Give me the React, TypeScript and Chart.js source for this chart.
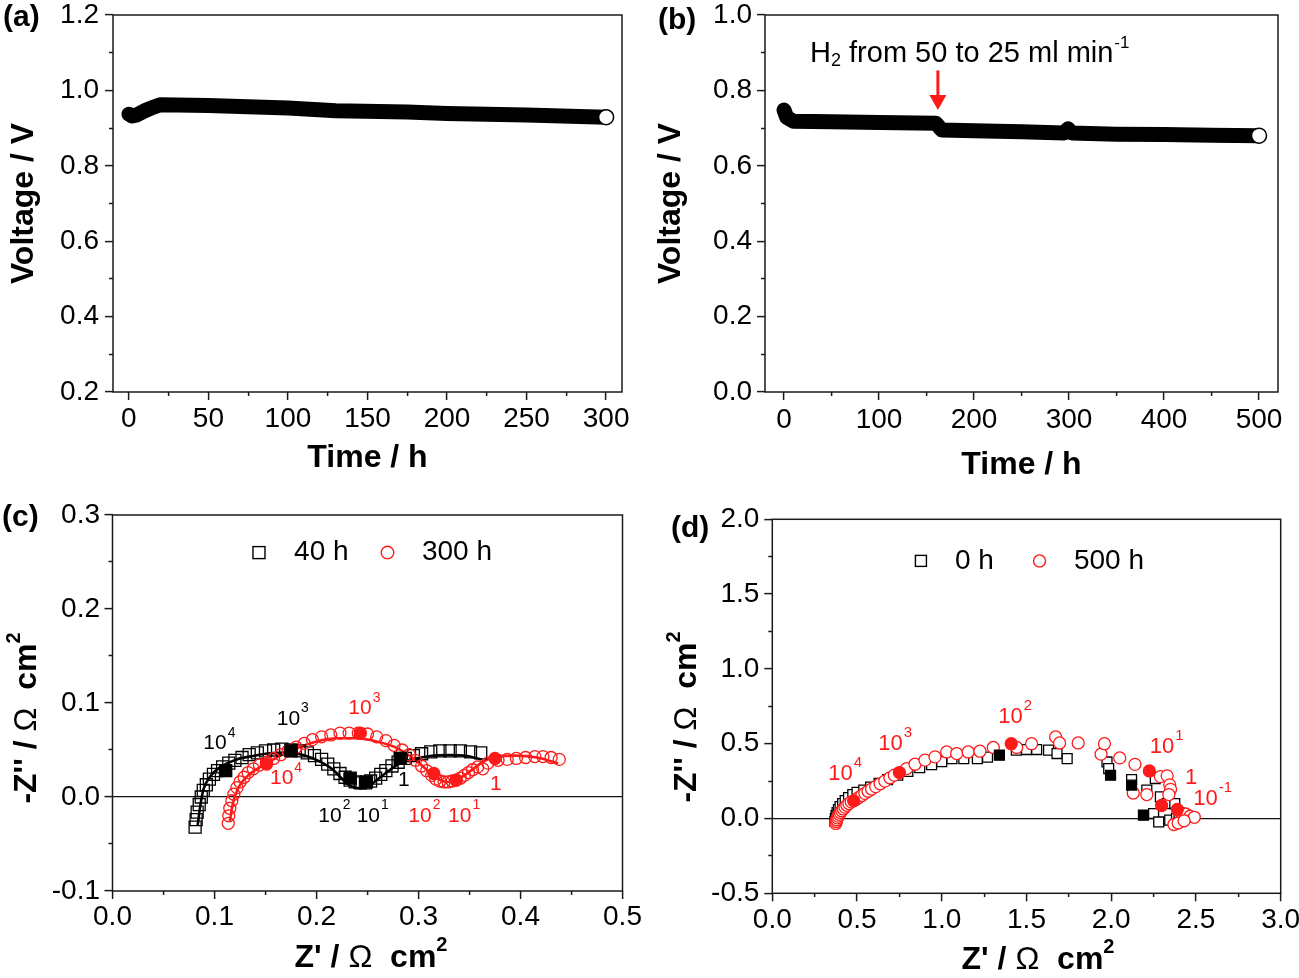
import React, { useEffect, useRef } from "react";
import { Chart, registerables } from "chart.js";

Chart.register(...registerables);

const FONT = "'Liberation Sans', Arial, Helvetica, sans-serif";
const RED = "#ff1a1a";

// ---------------- (a) stability at 300 h ----------------
const timeA = [0, 2, 5, 10, 15, 20, 50, 100, 130, 175, 200, 250, 300];
const voltA = [0.937, 0.932, 0.935, 0.946, 0.955, 0.962, 0.96, 0.953, 0.946, 0.943, 0.939, 0.935, 0.929];
const endTimeA = [300];
const endVoltA = [0.929];
const xMajorA = [0, 50, 100, 150, 200, 250, 300];
const xMinorA = [25, 75, 125, 175, 225, 275];
const yMajorA = [0.2, 0.4, 0.6, 0.8, 1.0, 1.2];
const yMinorA = [0.3, 0.5, 0.7, 0.9, 1.1];

// ---------------- (b) stability at 500 h ----------------
const timeB = [0, 3, 10, 50, 100, 160, 166, 200, 250, 295, 299, 303, 350, 400, 450, 500];
const voltB = [0.748, 0.728, 0.718, 0.717, 0.715, 0.713, 0.695, 0.693, 0.69, 0.687, 0.698, 0.687, 0.684, 0.683, 0.681, 0.68];
const endTimeB = [500];
const endVoltB = [0.68];
const xMajorB = [0, 100, 200, 300, 400, 500];
const xMinorB = [50, 150, 250, 350, 450];
const yMajorB = [0.0, 0.2, 0.4, 0.6, 0.8, 1.0];
const yMinorB = [0.1, 0.3, 0.5, 0.7, 0.9];
const noteB = { time: 27.4, volt: 0.876 };
const arrowB = { time: 162, from: 0.853, to: 0.748 };

// ---------------- (c) impedance 40 h / 300 h ----------------
const open40h = [
  [0.081, -0.032], [0.082, -0.024], [0.083, -0.016], [0.085, -0.008], [0.087, 0.0], [0.089, 0.007],
  [0.092, 0.013], [0.095, 0.019], [0.099, 0.024], [0.103, 0.028], [0.108, 0.032], [0.114, 0.036],
  [0.12, 0.039], [0.127, 0.042], [0.134, 0.045], [0.142, 0.047], [0.15, 0.049], [0.158, 0.05],
  [0.166, 0.051], [0.175, 0.05], [0.183, 0.049], [0.191, 0.047], [0.198, 0.044], [0.205, 0.04],
  [0.211, 0.035], [0.217, 0.03], [0.223, 0.025], [0.228, 0.021], [0.233, 0.018], [0.238, 0.016],
  [0.243, 0.015], [0.248, 0.015], [0.253, 0.017], [0.258, 0.02], [0.263, 0.024], [0.268, 0.028],
  [0.274, 0.033], [0.28, 0.037], [0.287, 0.041], [0.295, 0.044], [0.303, 0.046], [0.312, 0.048],
  [0.321, 0.049], [0.331, 0.049], [0.341, 0.049], [0.351, 0.048], [0.361, 0.047],
];
const filled40h = [[0.111, 0.028], [0.175, 0.049], [0.233, 0.02], [0.249, 0.016], [0.282, 0.041]];
const fit40h = [
  [0.0835, -0.03], [0.086, -0.01], [0.089, 0.0075], [0.0956, 0.0216], [0.1054, 0.0316], [0.1218, 0.04],
  [0.138, 0.0437], [0.1544, 0.0465], [0.1708, 0.0472], [0.187, 0.0447], [0.2034, 0.0376], [0.2165, 0.0288],
  [0.2263, 0.018], [0.2345, 0.011], [0.2426, 0.0093], [0.2525, 0.0128], [0.2655, 0.0234], [0.2786, 0.034],
  [0.2917, 0.0394], [0.3113, 0.0437], [0.3309, 0.0447], [0.3472, 0.0437], [0.362, 0.04],
];
const open300h = [
  [0.1135, -0.028], [0.114, -0.02], [0.115, -0.012], [0.117, -0.004], [0.119, 0.003], [0.122, 0.01],
  [0.125, 0.016], [0.129, 0.021], [0.133, 0.026], [0.138, 0.03], [0.144, 0.034], [0.151, 0.037],
  [0.158, 0.041], [0.165, 0.045], [0.172, 0.049], [0.18, 0.053], [0.188, 0.057], [0.196, 0.061],
  [0.205, 0.064], [0.214, 0.066], [0.223, 0.068], [0.232, 0.068], [0.241, 0.068], [0.25, 0.067],
  [0.259, 0.064], [0.268, 0.06], [0.276, 0.055], [0.284, 0.05], [0.291, 0.045], [0.297, 0.039],
  [0.303, 0.033], [0.308, 0.028], [0.313, 0.023], [0.317, 0.019], [0.321, 0.017], [0.325, 0.016],
  [0.329, 0.016], [0.333, 0.017], [0.337, 0.018], [0.341, 0.02], [0.345, 0.023], [0.349, 0.026],
  [0.353, 0.029], [0.358, 0.032], [0.363, 0.03], [0.368, 0.036], [0.378, 0.039], [0.387, 0.04],
  [0.396, 0.041], [0.405, 0.042], [0.414, 0.043], [0.422, 0.043], [0.43, 0.042], [0.438, 0.04],
];
const filled300h = [[0.151, 0.035], [0.243, 0.068], [0.315, 0.025], [0.337, 0.018], [0.375, 0.041]];
const fit300h = [
  [0.115, -0.026], [0.118, -0.007], [0.123, 0.009], [0.132, 0.022], [0.145, 0.032], [0.161, 0.042],
  [0.181, 0.052], [0.2, 0.059], [0.22, 0.0625], [0.239, 0.0625], [0.259, 0.059], [0.279, 0.052],
  [0.295, 0.041], [0.308, 0.029], [0.318, 0.02], [0.328, 0.016], [0.337, 0.018], [0.35, 0.027],
  [0.364, 0.038], [0.377, 0.043], [0.396, 0.044], [0.416, 0.042], [0.437, 0.036],
];
const xMajorC = [0.0, 0.1, 0.2, 0.3, 0.4, 0.5];
const xMinorC = [0.05, 0.15, 0.25, 0.35, 0.45];
const yMajorC = [-0.1, 0.0, 0.1, 0.2, 0.3];
const yMinorC = [-0.05, 0.05, 0.15, 0.25];

// ---------------- (d) impedance 0 h / 500 h ----------------
const open0h = [
  [0.37, -0.02], [0.372, 0.0], [0.376, 0.02], [0.382, 0.04], [0.39, 0.06], [0.4, 0.08], [0.415, 0.1],
  [0.43, 0.12], [0.45, 0.14], [0.475, 0.16], [0.5, 0.175], [0.54, 0.19], [0.58, 0.21], [0.63, 0.235],
  [0.68, 0.26], [0.74, 0.29], [0.8, 0.315], [0.87, 0.34], [0.94, 0.36], [1.0, 0.38], [1.06, 0.4],
  [1.13, 0.4], [1.21, 0.4], [1.27, 0.41], [1.44, 0.457], [1.5, 0.461], [1.56, 0.461], [1.63, 0.457],
  [1.68, 0.434], [1.74, 0.4], [1.975, 0.378], [1.985, 0.334], [2.12, 0.26], [2.21, 0.19], [2.26, 0.267],
  [2.29, 0.145], [2.33, 0.1], [2.375, 0.1], [2.25, 0.033], [2.28, -0.023], [2.345, -0.011], [2.385, 0.0],
  [2.4, 0.04],
];
const filled0h = [[1.34, 0.423], [1.996, 0.289], [2.12, 0.223], [2.19, 0.022]];
const open500h = [
  [0.375, -0.033], [0.377, -0.02], [0.38, -0.008], [0.384, 0.004], [0.389, 0.016], [0.395, 0.028],
  [0.402, 0.04], [0.41, 0.052], [0.419, 0.064], [0.429, 0.076], [0.44, 0.088], [0.452, 0.1],
  [0.466, 0.111], [0.497, 0.13], [0.512, 0.141], [0.528, 0.154], [0.546, 0.168], [0.565, 0.182],
  [0.586, 0.197], [0.61, 0.213], [0.636, 0.232], [0.664, 0.25], [0.694, 0.272], [0.72, 0.29],
  [0.793, 0.334], [0.842, 0.363], [0.901, 0.39], [0.96, 0.412], [1.029, 0.445], [1.088, 0.434],
  [1.156, 0.445], [1.225, 0.45], [1.304, 0.475], [1.442, 0.475], [1.53, 0.5], [1.672, 0.545],
  [1.695, 0.505], [1.805, 0.505], [1.94, 0.43], [1.96, 0.5], [2.05, 0.405], [2.14, 0.362],
  [2.29, 0.28], [2.33, 0.285], [2.345, 0.225], [2.35, 0.195], [2.34, 0.16], [2.13, 0.17],
  [2.21, 0.16], [2.42, 0.025], [2.44, 0.03], [2.465, 0.015], [2.49, 0.008], [2.37, -0.04],
  [2.395, -0.03], [2.43, -0.015],
];
const filled500h = [[0.48, 0.118], [0.75, 0.307], [1.41, 0.5], [2.225, 0.318], [2.297, 0.087], [2.39, 0.06]];
const xMajorD = [0.0, 0.5, 1.0, 1.5, 2.0, 2.5, 3.0];
const xMinorD = [0.25, 0.75, 1.25, 1.75, 2.25, 2.75];
const yMajorD = [-0.5, 0.0, 0.5, 1.0, 1.5, 2.0];
const yMinorD = [-0.25, 0.25, 0.75, 1.25, 1.75];

// frequency labels (anchor = left / vertical middle of the "10")
const freqC = [
  { x: 0.089, y: 0.057, base: "10", sup: "4", color: "#000" },
  { x: 0.161, y: 0.083, base: "10", sup: "3", color: "#000" },
  { x: 0.2018, y: -0.02, base: "10", sup: "2", color: "#000" },
  { x: 0.2394, y: -0.02, base: "10", sup: "1", color: "#000" },
  { x: 0.28, y: 0.0174, base: "1", sup: "", color: "#000" },
  { x: 0.2312, y: 0.0944, base: "10", sup: "3", color: RED },
  { x: 0.1544, y: 0.02, base: "10", sup: "4", color: RED },
  { x: 0.29, y: -0.02, base: "10", sup: "2", color: RED },
  { x: 0.329, y: -0.02, base: "10", sup: "1", color: RED },
  { x: 0.37, y: 0.0138, base: "1", sup: "", color: RED },
];
const freqD = [
  { x: 0.33, y: 0.3, base: "10", sup: "4", color: RED },
  { x: 0.625, y: 0.497, base: "10", sup: "3", color: RED },
  { x: 1.333, y: 0.679, base: "10", sup: "2", color: RED },
  { x: 2.228, y: 0.479, base: "10", sup: "1", color: RED },
  { x: 2.435, y: 0.274, base: "1", sup: "", color: RED },
  { x: 2.484, y: 0.134, base: "10", sup: "-1", color: RED },
];
const legendC = [
  { kind: "rect", x: 0.1436, y: 0.26, text: "", color: "#000" },
  { kind: "text", x: 0.178, y: 0.26, text: "40 h", color: "#000" },
  { kind: "circle", x: 0.2696, y: 0.26, text: "", color: RED },
  { kind: "text", x: 0.3034, y: 0.26, text: "300 h", color: "#000" },
];
const legendD = [
  { kind: "rect", x: 0.877, y: 1.722, text: "", color: "#000" },
  { kind: "text", x: 1.078, y: 1.722, text: "0 h", color: "#000" },
  { kind: "circle", x: 1.577, y: 1.722, text: "", color: RED },
  { kind: "text", x: 1.78, y: 1.722, text: "500 h", color: "#000" },
];

// axis titles with mixed weights and a raised "2" (canvas-pixel centres)
const titleSegsX = [
  { t: "Z' / ", w: "bold" },
  { t: "Ω", w: "normal" },
  { t: "  cm", w: "bold" },
  { t: "2", w: "bold", sup: true },
];
const titleSegsY = [
  { t: "-Z'' / ", w: "bold" },
  { t: "Ω", w: "normal" },
  { t: "  cm", w: "bold" },
  { t: "2", w: "bold", sup: true },
];
const titlesC = [
  { segs: titleSegsX, cx: 371, cy: 468, rot: 0 },
  { segs: titleSegsY, cx: 27, cy: 228, rot: -Math.PI / 2 },
];
const titlesD = [
  { segs: titleSegsX, cx: 388, cy: 470, rot: 0 },
  { segs: titleSegsY, cx: 37.5, cy: 227, rot: -Math.PI / 2 },
];

// ---------------- helpers ----------------
const zip = (xs: number[], ys: number[]) => xs.map((x, i) => ({ x, y: ys[i] }));
const pts = (arr: number[][]) => arr.map(([x, y]) => ({ x, y }));

const framePlugin = {
  id: "frame",
  afterDraw(chart: any) {
    const { ctx, chartArea: a } = chart;
    ctx.save();
    ctx.strokeStyle = "#1a1a1a";
    ctx.lineWidth = 1.5;
    ctx.strokeRect(a.left, a.top, a.right - a.left, a.bottom - a.top);
    ctx.restore();
  },
};

function richTitlePlugin(items: any[]) {
  return {
    id: "richTitles",
    afterDraw(chart: any) {
      const { ctx } = chart;
      ctx.save();
      ctx.fillStyle = "#000";
      ctx.textBaseline = "middle";
      ctx.textAlign = "left";
      for (const it of items) {
        const fontOf = (s: any) => `${s.w} ${s.sup ? 20 : 32}px ${FONT}`;
        let total = 0;
        for (const s of it.segs) {
          ctx.font = fontOf(s);
          total += ctx.measureText(s.t).width;
        }
        ctx.save();
        ctx.translate(it.cx, it.cy);
        ctx.rotate(it.rot);
        let x = -total / 2;
        for (const s of it.segs) {
          ctx.font = fontOf(s);
          ctx.fillText(s.t, x, s.sup ? -13 : 0);
          x += ctx.measureText(s.t).width;
        }
        ctx.restore();
      }
      ctx.restore();
    },
  };
}

function freqPlugin(items: any[], size: number) {
  return {
    id: "freq",
    afterDatasetsDraw(chart: any) {
      const { ctx, scales } = chart;
      ctx.save();
      ctx.textBaseline = "middle";
      ctx.textAlign = "left";
      for (const it of items) {
        const px = scales.x.getPixelForValue(it.x);
        const py = scales.y.getPixelForValue(it.y);
        ctx.fillStyle = it.color;
        ctx.font = `${size}px ${FONT}`;
        ctx.fillText(it.base, px, py);
        if (it.sup) {
          const w = ctx.measureText(it.base).width;
          ctx.font = `${Math.round(size * 0.68)}px ${FONT}`;
          ctx.fillText(it.sup, px + w + 1, py - size * 0.5);
        }
      }
      ctx.restore();
    },
  };
}

function legendPlugin(items: any[], side: number, radius: number) {
  return {
    id: "legendBox",
    afterDatasetsDraw(chart: any) {
      const { ctx, scales } = chart;
      ctx.save();
      ctx.lineWidth = 1.4;
      for (const it of items) {
        const px = scales.x.getPixelForValue(it.x);
        const py = scales.y.getPixelForValue(it.y);
        if (it.kind === "rect") {
          ctx.strokeStyle = it.color;
          ctx.strokeRect(px - side / 2, py - side / 2, side, side);
        } else if (it.kind === "circle") {
          ctx.strokeStyle = it.color;
          ctx.beginPath();
          ctx.arc(px, py, radius, 0, Math.PI * 2);
          ctx.stroke();
        } else {
          ctx.fillStyle = it.color;
          ctx.font = `28px ${FONT}`;
          ctx.textAlign = "left";
          ctx.textBaseline = "middle";
          ctx.fillText(it.text, px, py);
        }
      }
      ctx.restore();
    },
  };
}

const notePlugin = {
  id: "noteB",
  afterDatasetsDraw(chart: any) {
    const { ctx, scales } = chart;
    const x0 = scales.x.getPixelForValue(noteB.time);
    const y0 = scales.y.getPixelForValue(noteB.volt);
    ctx.save();
    ctx.fillStyle = "#000";
    ctx.textAlign = "left";
    ctx.textBaseline = "alphabetic";
    let x = x0;
    ctx.font = `29px ${FONT}`;
    ctx.fillText("H", x, y0);
    x += ctx.measureText("H").width;
    ctx.font = `18px ${FONT}`;
    ctx.fillText("2", x, y0 + 4);
    x += ctx.measureText("2").width;
    ctx.font = `29px ${FONT}`;
    const main = " from 50 to 25 ml min";
    ctx.fillText(main, x, y0);
    x += ctx.measureText(main).width;
    ctx.font = `17px ${FONT}`;
    ctx.fillText("-1", x + 1, y0 - 14);
    // arrow
    const ax = scales.x.getPixelForValue(arrowB.time);
    const ay1 = scales.y.getPixelForValue(arrowB.from);
    const ay2 = scales.y.getPixelForValue(arrowB.to);
    ctx.strokeStyle = RED;
    ctx.fillStyle = RED;
    ctx.lineWidth = 3;
    ctx.beginPath();
    ctx.moveTo(ax, ay1);
    ctx.lineTo(ax, ay2 - 12);
    ctx.stroke();
    ctx.beginPath();
    ctx.moveTo(ax - 8.5, ay2 - 15);
    ctx.lineTo(ax + 8.5, ay2 - 15);
    ctx.lineTo(ax, ay2);
    ctx.closePath();
    ctx.fill();
    ctx.restore();
  },
};

function makeScale(o: {
  axis: "x" | "y";
  min: number;
  max: number;
  major: number[];
  minor: number[];
  digits: number;
  title: string;
  showTitle: boolean;
  titlePad: number;
  tickPad: number;
  size: number;
  zero?: boolean;
}) {
  const isMajor = (v: number) => o.major.some((m) => Math.abs(m - v) < 1e-9);
  const all = [...o.major, ...o.minor].sort((a, b) => a - b);
  const isX = o.axis === "x";
  return {
    type: "linear",
    position: isX ? "bottom" : "left",
    min: o.min,
    max: o.max,
    afterBuildTicks: (s: any) => {
      s.ticks = all.map((v) => ({ value: v }));
    },
    afterFit: (s: any) => {
      if (isX) s.height = o.size;
      else s.width = o.size;
    },
    border: { display: false },
    grid: {
      drawOnChartArea: !!o.zero,
      drawTicks: true,
      tickLength: 8,
      lineWidth: 1.2,
      color: (c: any) => (o.zero && c.tick && Math.abs(c.tick.value) < 1e-9 ? "#111" : "rgba(0,0,0,0)"),
      tickColor: "#1a1a1a",
      tickWidth: 1.5,
      tickBorderDash: (c: any) =>
        c.tick && isMajor(c.tick.value) ? [] : isX ? [4, 100] : [0, 4, 4, 100],
    },
    ticks: {
      autoSkip: false,
      maxRotation: 0,
      minRotation: 0,
      padding: o.tickPad,
      color: "#000",
      font: { family: FONT, size: 28 },
      callback: (v: any) => (isMajor(Number(v)) ? Number(v).toFixed(o.digits) : ""),
    },
    title: {
      display: o.showTitle,
      text: o.title,
      color: "#000",
      font: { family: FONT, size: 32, weight: "bold" },
      padding: isX ? { top: 0, bottom: o.titlePad } : { top: o.titlePad, bottom: 0 },
    },
  };
}

const baseOptions = (padding: any) => ({
  animation: false,
  responsive: false,
  events: [],
  layout: { padding },
  plugins: { legend: { display: false }, tooltip: { enabled: false } },
});

function configA() {
  return {
    type: "scatter",
    data: {
      datasets: [
        {
          data: zip(endTimeA, endVoltA),
          showLine: false,
          pointRadius: 7.5,
          pointBackgroundColor: "#fff",
          pointBorderColor: "#000",
          pointBorderWidth: 1.5,
          order: 0,
        },
        {
          data: zip(timeA, voltA),
          showLine: true,
          borderColor: "#000",
          borderWidth: 15,
          borderCapStyle: "round",
          borderJoinStyle: "round",
          pointRadius: 0,
          tension: 0,
          order: 1,
        },
      ],
    },
    options: {
      ...baseOptions({ top: 35, right: 28, left: 0, bottom: 0 }),
      scales: {
        x: makeScale({ axis: "x", min: -10, max: 310, major: xMajorA, minor: xMinorA, digits: 0, title: "Time / h", showTitle: true, titlePad: 12.8, tickPad: 2.2, size: 98 }),
        y: makeScale({ axis: "y", min: 0.2, max: 1.2, major: yMajorA, minor: yMinorA, digits: 1, title: "Voltage / V", showTitle: true, titlePad: 4.7, tickPad: 6, size: 113 }),
      },
    },
    plugins: [framePlugin],
  };
}

function configB() {
  return {
    type: "scatter",
    data: {
      datasets: [
        {
          data: zip(endTimeB, endVoltB),
          showLine: false,
          pointRadius: 7.5,
          pointBackgroundColor: "#fff",
          pointBorderColor: "#000",
          pointBorderWidth: 1.5,
          order: 0,
        },
        {
          data: zip(timeB, voltB),
          showLine: true,
          borderColor: "#000",
          borderWidth: 15,
          borderCapStyle: "round",
          borderJoinStyle: "round",
          pointRadius: 0,
          tension: 0,
          order: 1,
        },
      ],
    },
    options: {
      ...baseOptions({ top: 35, right: 21, left: 0, bottom: 0 }),
      scales: {
        x: makeScale({ axis: "x", min: -20, max: 520, major: xMajorB, minor: xMinorB, digits: 0, title: "Time / h", showTitle: true, titlePad: 5.8, tickPad: 3, size: 98 }),
        y: makeScale({ axis: "y", min: 0, max: 1.0, major: yMajorB, minor: yMinorB, digits: 1, title: "Voltage / V", showTitle: true, titlePad: 2.3, tickPad: 5, size: 115 }),
      },
    },
    plugins: [framePlugin, notePlugin],
  };
}

const openMarker = (data: number[][], style: string, r: number, color: string, fill: string, order: number) => ({
  data: pts(data),
  showLine: false,
  pointStyle: style,
  pointRadius: r,
  pointBorderColor: color,
  pointBackgroundColor: fill,
  pointBorderWidth: 1.3,
  order,
});

const fitLine = (data: number[][], color: string, order: number) => ({
  data: pts(data),
  showLine: true,
  borderColor: color,
  borderWidth: 2.6,
  pointRadius: 0,
  cubicInterpolationMode: "monotone",
  order,
});

function configC() {
  return {
    type: "scatter",
    data: {
      datasets: [
        openMarker(filled40h, "rect", 8.5, "#000", "#000", 0),
        openMarker(filled300h, "circle", 6, RED, RED, 0),
        openMarker(open300h, "circle", 6, RED, "rgba(0,0,0,0)", 1),
        openMarker(open40h, "rect", 8.5, "#000", "rgba(0,0,0,0)", 2),
        fitLine(fit300h, RED, 3),
        fitLine(fit40h, "#000", 4),
      ],
    },
    options: {
      ...baseOptions({ top: 25, right: 27.5, left: 0, bottom: 0 }),
      scales: {
        x: makeScale({ axis: "x", min: 0, max: 0.5, major: xMajorC, minor: xMinorC, digits: 1, title: "Z' / Ω cm²", showTitle: false, titlePad: 0.8, tickPad: 1.7, size: 87 }),
        y: makeScale({ axis: "y", min: -0.1, max: 0.3, major: yMajorC, minor: yMinorC, digits: 1, title: "-Z'' / Ω cm²", showTitle: false, titlePad: 7.8, tickPad: 4.5, size: 112.5, zero: true }),
      },
    },
    plugins: [framePlugin, freqPlugin(freqC, 21), legendPlugin(legendC, 12, 6.3), richTitlePlugin(titlesC)],
  };
}

function configD() {
  return {
    type: "scatter",
    data: {
      datasets: [
        openMarker(filled500h, "circle", 6, RED, RED, 0),
        openMarker(filled0h, "rect", 7, "#000", "#000", 1),
        openMarker(open500h, "circle", 6, RED, "#fff", 2),
        openMarker(open0h, "rect", 7, "#000", "#fff", 3),
      ],
    },
    options: {
      ...baseOptions({ top: 29.3, right: 29.3, left: 0, bottom: 0 }),
      scales: {
        x: makeScale({ axis: "x", min: 0, max: 3, major: xMajorD, minor: xMinorD, digits: 1, title: "Z' / Ω cm²", showTitle: false, titlePad: 0, tickPad: 2, size: 84.7 }),
        y: makeScale({ axis: "y", min: -0.5, max: 2, major: yMajorD, minor: yMinorD, digits: 1, title: "-Z'' / Ω cm²", showTitle: false, titlePad: 18.3, tickPad: 5, size: 122.3, zero: true }),
      },
    },
    plugins: [framePlugin, freqPlugin(freqD, 22), legendPlugin(legendD, 11, 6), richTitlePlugin(titlesD)],
  };
}

function ChartCanvas({ left, top, width, height, build }: { left: number; top: number; width: number; height: number; build: () => any }) {
  const ref = useRef<HTMLCanvasElement>(null);
  useEffect(() => {
    const chart = new Chart(ref.current as HTMLCanvasElement, build());
    return () => chart.destroy();
  }, []);
  return (
    <canvas
      ref={ref}
      width={width}
      height={height}
      style={{ position: "absolute", left, top, width, height }}
    />
  );
}

function PanelLabel({ text, left, top }: { text: string; left: number; top: number }) {
  return (
    <div
      style={{
        position: "absolute",
        left,
        top,
        fontFamily: FONT,
        fontWeight: "bold",
        fontSize: 30,
        lineHeight: "30px",
        color: "#000",
        whiteSpace: "nowrap",
      }}
    >
      {text}
    </div>
  );
}

export default function App() {
  return (
    <div
      style={{
        position: "absolute",
        left: 0,
        top: 0,
        width: 1299,
        height: 978,
        overflow: "hidden",
        background: "#fff",
      }}
    >
      <ChartCanvas left={0} top={-20} width={650} height={510} build={configA} />
      <ChartCanvas left={650} top={-20} width={649} height={510} build={configB} />
      <ChartCanvas left={0} top={490} width={650} height={488} build={configC} />
      <ChartCanvas left={650} top={490} width={660} height={488} build={configD} />
      <PanelLabel text="(a)" left={3} top={1} />
      <PanelLabel text="(b)" left={658} top={4} />
      <PanelLabel text="(c)" left={2} top={501} />
      <PanelLabel text="(d)" left={671} top={512} />
    </div>
  );
}
